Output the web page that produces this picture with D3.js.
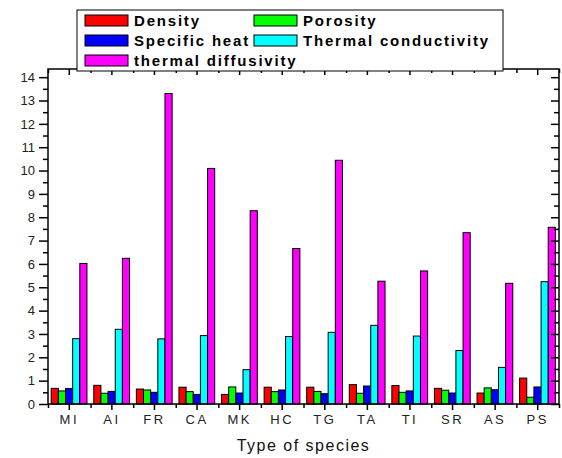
<!DOCTYPE html>
<html>
<head>
<meta charset="utf-8">
<script src="https://cdn.jsdelivr.net/npm/d3@7"></script>
<style>
  body { margin: 0; background: #fff; }
  svg { display: block; font-family: "Liberation Sans", Arial, sans-serif; }
</style>
</head>
<body>
<svg id="chart" width="562" height="458"></svg>
<script>
// Thermal properties by species — grouped bars, Origin-style frame

const categories = ['MI', 'AI', 'FR', 'CA', 'MK', 'HC', 'TG', 'TA', 'TI', 'SR', 'AS', 'PS'];
const density = [0.67, 0.80, 0.64, 0.72, 0.41, 0.72, 0.72, 0.83, 0.79, 0.67, 0.47, 1.11];
const porosity = [0.56, 0.46, 0.60, 0.53, 0.73, 0.53, 0.54, 0.46, 0.50, 0.59, 0.69, 0.29];
const specificHeat = [0.66, 0.54, 0.50, 0.41, 0.47, 0.60, 0.44, 0.77, 0.56, 0.47, 0.61, 0.73];
const thermalConductivity = [2.80, 3.20, 2.79, 2.93, 1.47, 2.89, 3.07, 3.37, 2.91, 2.29, 1.57, 5.24];
const thermalDiffusivity = [6.02, 6.24, 13.30, 10.09, 8.28, 6.66, 10.44, 5.26, 5.70, 7.34, 5.17, 7.57];
const yTicks = [0, 1, 2, 3, 4, 5, 6, 7, 8, 9, 10, 11, 12, 13, 14];

const seriesNames = ['Density', 'Porosity', 'Specific heat', 'Thermal conductivity', 'thermal diffusivity'];
const seriesValues = [density, porosity, specificHeat, thermalConductivity, thermalDiffusivity];
const seriesColors = ['#ff0000', '#00ff00', '#0000ff', '#00ffff', '#ff00ff'];

const plot = { left: 48, right: 559, top: 69, bottom: 404 };
const svg = d3.select('#chart');

const x = d3.scaleBand().domain(categories).range([plot.left, plot.right]).padding(0);
const xEdge = d3.scaleLinear().domain([0, categories.length]).range([plot.left, plot.right]);
const x1 = d3.scaleBand().domain(seriesNames)
    .range([x.bandwidth() * 0.075, x.bandwidth() * 0.915]).padding(0);
const y = d3.scaleLinear().domain([0, 14.35]).range([plot.bottom, plot.top]);

const rows = categories.map((c, i) => ({
    cat: c,
    vals: seriesNames.map((s, k) => ({ key: s, value: seriesValues[k][i], color: seriesColors[k] }))
}));

// Bars
const groups = svg.append('g').selectAll('g').data(rows).enter().append('g')
    .attr('transform', d => `translate(${x(d.cat)},0)`);

groups.selectAll('rect').data(d => d.vals).enter().append('rect')
    .attr('x', d => x1(d.key))
    .attr('y', d => y(d.value))
    .attr('width', x1.bandwidth())
    .attr('height', d => y(0) - y(d.value))
    .attr('fill', d => d.color)
    .attr('stroke', '#000')
    .attr('stroke-width', 1);

// Axis helper: strip domain, style lines
function styleAxis(sel) {
    sel.select('.domain').remove();
    sel.selectAll('line').attr('stroke', '#000').attr('stroke-width', 1.5);
}

// Left axis (outward), major + minor
svg.append('g').attr('transform', `translate(${plot.left},0)`)
    .call(d3.axisLeft(y).tickValues(yTicks).tickSize(9).tickPadding(4))
    .call(styleAxis)
    .selectAll('text')
    .attr('font-size', '13px').attr('fill', '#222')
    .attr('font-family', '"Liberation Sans", Arial, sans-serif');

svg.append('g').attr('transform', `translate(${plot.left},0)`)
    .call(d3.axisLeft(y).tickValues(yTicks.slice(0, -1).map(v => v + 0.5)).tickSize(5).tickFormat(''))
    .call(styleAxis);

// Right axis (inward)
svg.append('g').attr('transform', `translate(${plot.right},0)`)
    .call(d3.axisLeft(y).tickValues(yTicks).tickSize(8).tickFormat(''))
    .call(styleAxis);
svg.append('g').attr('transform', `translate(${plot.right},0)`)
    .call(d3.axisLeft(y).tickValues(yTicks.slice(0, -1).map(v => v + 0.5)).tickSize(5).tickFormat(''))
    .call(styleAxis);

// Bottom axis (outward)
svg.append('g').attr('transform', `translate(0,${plot.bottom})`)
    .call(d3.axisBottom(x).tickSize(6).tickPadding(5))
    .call(styleAxis)
    .selectAll('text')
    .attr('font-size', '13px').attr('fill', '#222')
    .attr('letter-spacing', '2.5px')
    .attr('font-family', '"Liberation Sans", Arial, sans-serif');

svg.append('g').attr('transform', `translate(0,${plot.bottom})`)
    .call(d3.axisBottom(xEdge).tickValues(d3.range(0, categories.length + 1)).tickSize(4).tickFormat(''))
    .call(styleAxis);

// Top axis (inward)
svg.append('g').attr('transform', `translate(0,${plot.top})`)
    .call(d3.axisBottom(x).tickSize(6).tickFormat(''))
    .call(styleAxis);
svg.append('g').attr('transform', `translate(0,${plot.top})`)
    .call(d3.axisBottom(xEdge).tickValues(d3.range(0, categories.length + 1)).tickSize(4).tickFormat(''))
    .call(styleAxis);

// Frame
svg.append('rect')
    .attr('x', plot.left).attr('y', plot.top)
    .attr('width', plot.right - plot.left).attr('height', plot.bottom - plot.top)
    .attr('fill', 'none').attr('stroke', '#000').attr('stroke-width', 1.5);

// X label
svg.append('text')
    .attr('x', (plot.left + plot.right) / 2).attr('y', 451)
    .attr('text-anchor', 'middle')
    .attr('font-size', '16px').attr('letter-spacing', '1.5px').attr('fill', '#111')
    .text('Type of species');

// Legend
const legend = svg.append('g');
legend.append('rect')
    .attr('x', 77).attr('y', 10).attr('width', 426).attr('height', 61)
    .attr('fill', '#fff').attr('stroke', '#000').attr('stroke-width', 1);

const legendPos = [
    { col: 85, row: 20.5 }, { col: 254, row: 20.5 },
    { col: 85, row: 40.5 }, { col: 254, row: 40.5 },
    { col: 85, row: 60.5 }
];
const items = legend.selectAll('g.item').data(seriesNames).enter().append('g')
    .attr('transform', (d, i) => `translate(${legendPos[i].col},${legendPos[i].row})`);
items.append('rect')
    .attr('x', 0).attr('y', -5.5).attr('width', 43).attr('height', 11)
    .attr('fill', (d, i) => seriesColors[i]).attr('stroke', '#000').attr('stroke-width', 1);
items.append('text')
    .attr('x', 49).attr('dy', '0.36em')
    .attr('font-size', '15px').attr('font-weight', 'bold')
    .attr('letter-spacing', '1.8px').attr('fill', '#000')
    .text(d => d);
</script>
</body>
</html>
